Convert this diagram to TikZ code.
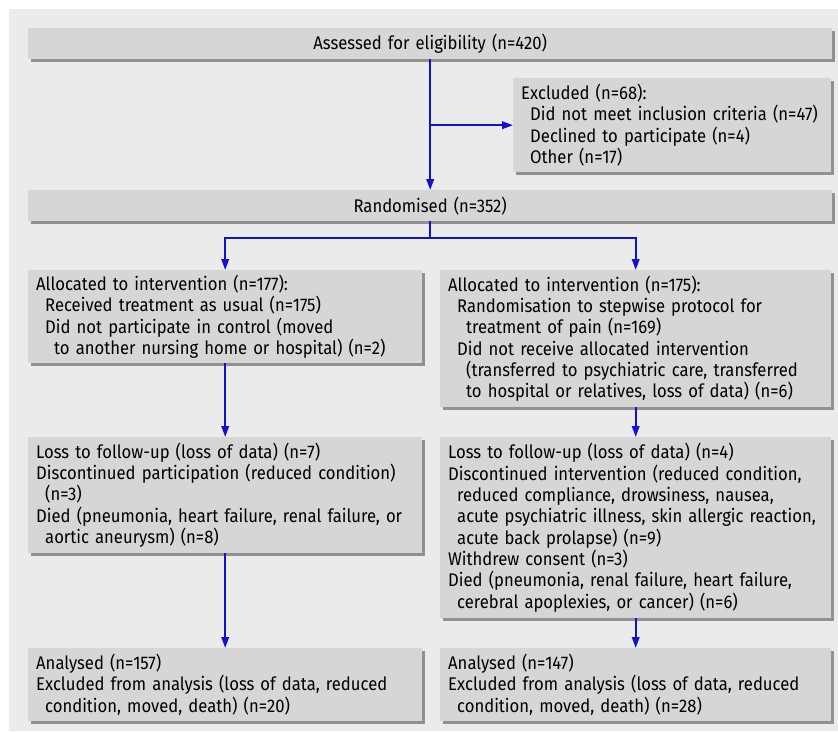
\documentclass[tikz,border=0pt]{standalone}
\usepackage{fontspec}
\setmainfont{Fira Sans}[FakeStretch=0.91]
\usetikzlibrary{arrows.meta,shadows,calc}
\definecolor{pageGray}{RGB}{235,235,235}
\definecolor{boxGray}{RGB}{214,214,214}
\definecolor{shadowGray}{RGB}{145,145,145}
\definecolor{arrowBlue}{RGB}{18,18,204}
\newcommand{\indA}{\hspace*{9pt}}
\newcommand{\indB}{\hspace*{18pt}}
\hyphenpenalty=10000
\begin{document}
\begin{tikzpicture}
[x=1pt,y=-1pt,
  boxDecorate/.style={anchor=north west,fill=boxGray,inner xsep=8pt,inner ysep=0pt,
    align=left,font=\fontsize{18.3}{21.3}\selectfont,
    drop shadow={shadow xshift=3pt,shadow yshift=-3pt,fill=shadowGray,opacity=1}},%
  blueArrow/.style={-{Triangle[length=11pt,width=7.5pt]},line width=2pt,color=arrowBlue}]
\useasboundingbox (0,0) rectangle (838,731);
\fill[pageGray] (9,9) rectangle (838,731);
%% boxes
\node (assess) at (28,28) [boxDecorate,align=center,minimum width=804pt,minimum height=31pt,text width=778pt]
  {Assessed for eligibility (n=420)\hspace*{9pt}};
\node (excl) at (513,78) [boxDecorate,minimum width=318pt,minimum height=94pt,text width=302pt]
  {Excluded (n=68):\\
   \indA Did not meet inclusion criteria (n=47)\\
   \indA Declined to participate (n=4)\\
   \indA Other (n=17)};
\node (rand) at (28,190) [boxDecorate,align=center,minimum width=804pt,minimum height=31pt,text width=778pt]
  {Randomised (n=352)\hspace*{9pt}};
\node (allocL) at (28,270) [boxDecorate,minimum width=394pt,minimum height=93pt,text width=378pt]
  {Allocated to intervention (n=177):\\
   \indA Received treatment as usual (n=175)\\
   \indA Did not participate in control (moved\\
   \indB to another nursing home or hospital) (n=2)};
\node (allocR) at (440,270) [boxDecorate,minimum width=391pt,minimum height=137pt,text width=375pt]
  {Allocated to intervention (n=175):\\
   \indA Randomisation to stepwise protocol for\\
   \indB treatment of pain (n=169)\\
   \indA Did not receive allocated intervention\\
   \indB (transferred to psychiatric care, transferred\\
   \indB to hospital or relatives, loss of data) (n=6)};
\node (lossL) at (28,437) [boxDecorate,minimum width=394pt,minimum height=116pt,text width=378pt]
  {Loss to follow-up (loss of data) (n=7)\\
   Discontinued participation (reduced condition)\\
   \indA (n=3)\\
   Died (pneumonia, heart failure, renal failure, or\\
   \indA aortic aneurysm) (n=8)};
\node (lossR) at (440,437) [boxDecorate,minimum width=391pt,minimum height=181pt,text width=375pt]
  {Loss to follow-up (loss of data) (n=4)\\
   Discontinued intervention (reduced condition,\\
   \indA reduced compliance, drowsiness, nausea,\\
   \indA acute psychiatric illness, skin allergic reaction,\\
   \indA acute back prolapse) (n=9)\\
   Withdrew consent (n=3)\\
   Died (pneumonia, renal failure, heart failure,\\
   \indA cerebral apoplexies, or cancer) (n=6)};
\node (anaL) at (28,648) [boxDecorate,minimum width=394pt,minimum height=73pt,text width=378pt]
  {Analysed (n=157)\\
   Excluded from analysis (loss of data, reduced\\
   \indA condition, moved, death) (n=20)};
\node (anaR) at (440,648) [boxDecorate,minimum width=391pt,minimum height=73pt,text width=375pt]
  {Analysed (n=147)\\
   Excluded from analysis (loss of data, reduced\\
   \indA condition, moved, death) (n=28)};
%% branch points
\coordinate (split) at (assess.south |- excl.west);
\coordinate (fork) at ($(rand.south)+(0,17)$);
%% arrows
\foreach \startnode/\endnode in {assess/rand, allocL/lossL, allocR/lossR, lossL/anaL, lossR/anaR}
{
  \draw[blueArrow] (\startnode) -- (\endnode);
}
\draw[blueArrow] (split) -- (excl.west);
\draw[blueArrow] (rand.south) -- (fork) -| (allocL.north);
\draw[blueArrow] (fork) -| (allocR.north);
\end{tikzpicture}
\end{document}
